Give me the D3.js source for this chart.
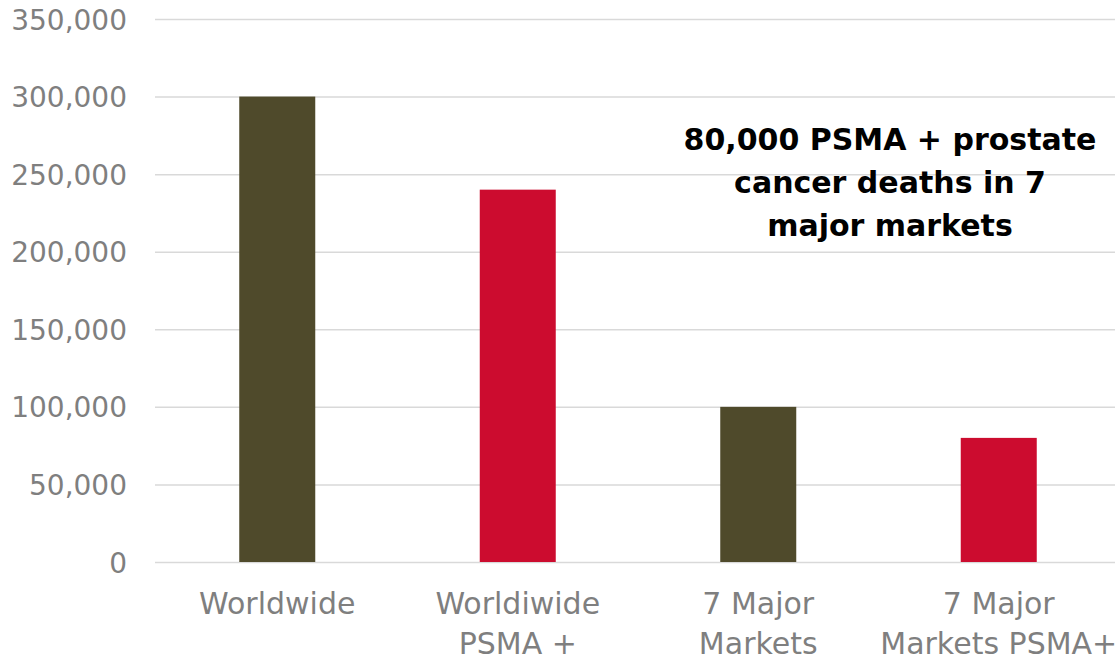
<!DOCTYPE html>
<html>
<head>
<meta charset="utf-8">
<script src="https://cdn.jsdelivr.net/npm/d3@7"></script>
<style>
  html, body { margin: 0; padding: 0; background: #fff; }
  svg { display: block; }
</style>
</head>
<body>
<svg id="chart" width="1115" height="658"></svg>
<script>
// Prostate cancer deaths: worldwide vs. 7 major markets, total and PSMA-positive
const categories = [["Worldwide"], ["Worldiwide", "PSMA +"], ["7 Major", "Markets"], ["7 Major", "Markets PSMA+"]];
const deaths = [300000, 240000, 100000, 80000];
const barColors = ["#4F4A2B", "#CC0C2F", "#4F4A2B", "#CC0C2F"];
const yTicks = [0, 50000, 100000, 150000, 200000, 250000, 300000, 350000];
const note = ["80,000 PSMA + prostate", "cancer deaths in 7", "major markets"];

const W = 1115, H = 658;
const svg = d3.select("#chart");
const keys = categories.map((c, i) => String(i));

const x = d3.scaleBand().domain(keys).range([157, 1119]).paddingInner(0.684).paddingOuter(0.342);
const y = d3.scaleLinear().domain([0, 350000]).range([562, 19]);

const fmt = d3.format(",");
const labelFont = "'DejaVu Sans', sans-serif";

// gridlines
const grid = svg.append("g")
  .call(d3.axisLeft(y).tickValues(yTicks).tickSize(-(W - 155)).tickFormat(""))
  .attr("transform", "translate(155,0)");
grid.select(".domain").remove();
grid.selectAll("line").attr("stroke", "#D9D9D9").attr("stroke-width", 1.5);

// y tick labels
const yAxis = svg.append("g")
  .attr("transform", "translate(127,0)")
  .call(d3.axisLeft(y).tickValues(yTicks).tickSize(0).tickPadding(0).tickFormat(fmt));
yAxis.select(".domain").remove();
yAxis.selectAll("text")
  .attr("fill", "#7F7F7F")
  .style("font-family", labelFont)
  .style("font-size", "28px")
  .attr("dy", "0.36em");

// bars
svg.append("g").selectAll("rect")
  .data(deaths)
  .join("rect")
  .attr("x", (d, i) => x(keys[i]))
  .attr("width", x.bandwidth())
  .attr("y", d => y(d))
  .attr("height", d => y(0) - y(d))
  .attr("fill", (d, i) => barColors[i]);

// category labels
const xl = svg.append("g").selectAll("text")
  .data(categories)
  .join("text")
  .attr("x", (d, i) => x(keys[i]) + x.bandwidth() / 2)
  .attr("y", 614)
  .attr("text-anchor", "middle")
  .attr("fill", "#7F7F7F")
  .style("font-family", labelFont)
  .style("font-size", "30px");
xl.selectAll("tspan")
  .data(d => d)
  .join("tspan")
  .attr("x", function () { return this.parentNode.getAttribute("x"); })
  .attr("dy", (d, i) => i === 0 ? 0 : 40)
  .text(d => d);

// callout
svg.append("text")
  .attr("x", 890)
  .attr("y", 150)
  .attr("text-anchor", "middle")
  .attr("fill", "#000")
  .style("font-family", "'DejaVu Sans', sans-serif")
  .style("font-weight", "bold")
  .style("font-size", "30px")
  .selectAll("tspan")
  .data(note)
  .join("tspan")
  .attr("x", 890)
  .attr("dy", (d, i) => i === 0 ? 0 : 43)
  .text(d => d);
</script>
</body>
</html>
